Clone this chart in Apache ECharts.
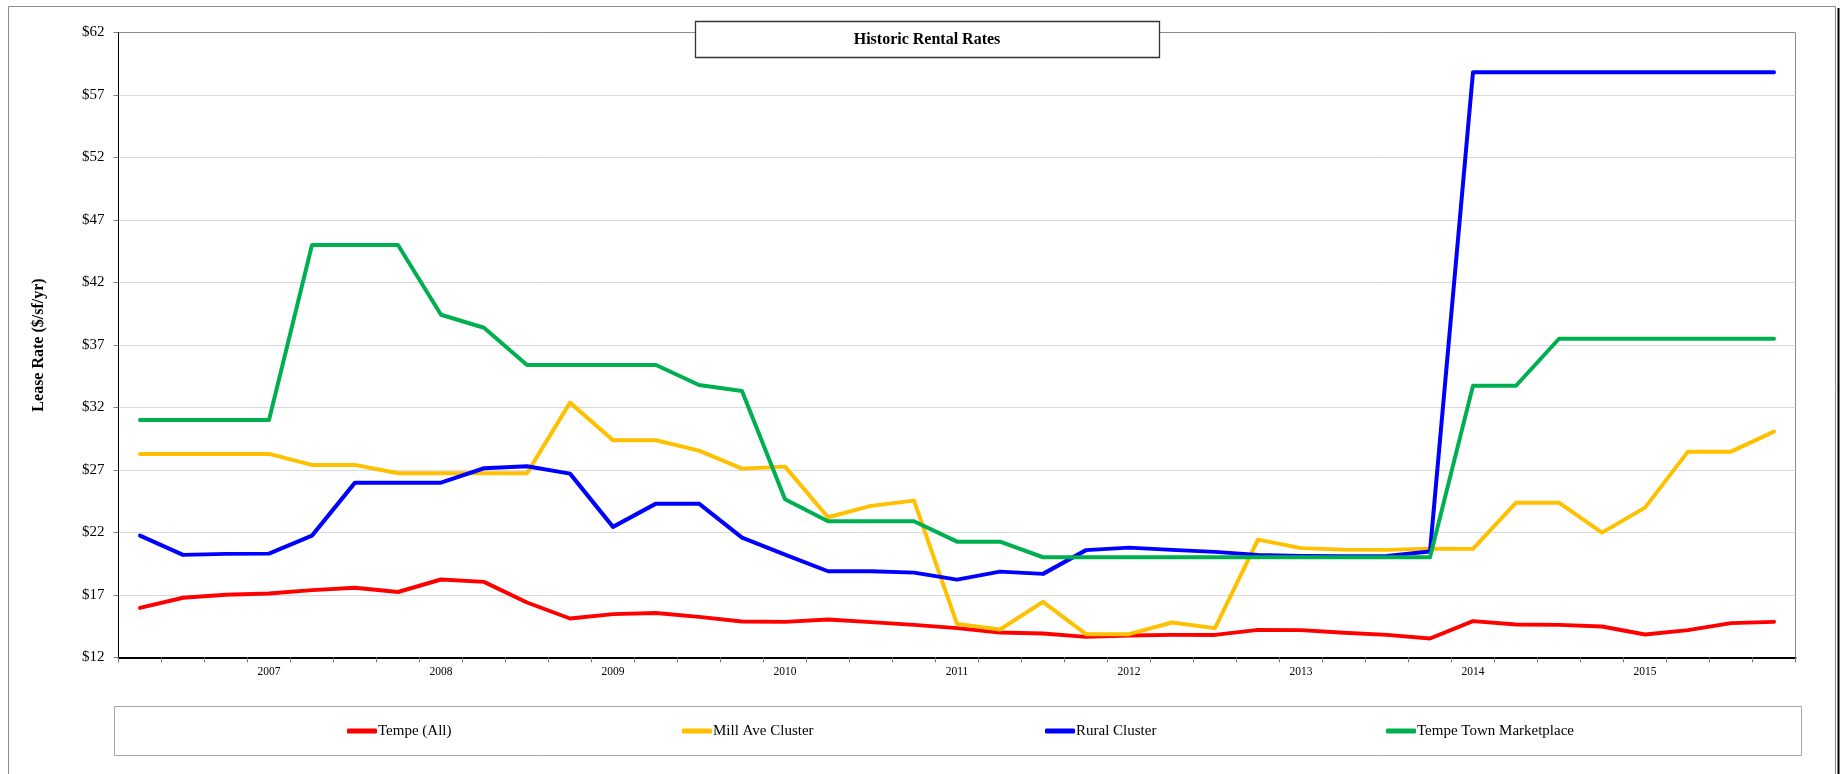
<!DOCTYPE html>
<html>
<head>
<meta charset="utf-8">
<title>Historic Rental Rates</title>
<script src="https://cdn.jsdelivr.net/npm/echarts@6/dist/echarts.min.js"></script>
<style>
  html, body { margin: 0; padding: 0; background: #ffffff; }
  #chart { width: 1843px; height: 774px; }
</style>
</head>
<body>
<div id="chart"></div>
<script>
// Quarterly periods, 2006 Q2 through 2015 Q4
const quarters = [
  '2006 Q2', '2006 Q3', '2006 Q4',
  '2007 Q1', '2007 Q2', '2007 Q3', '2007 Q4',
  '2008 Q1', '2008 Q2', '2008 Q3', '2008 Q4',
  '2009 Q1', '2009 Q2', '2009 Q3', '2009 Q4',
  '2010 Q1', '2010 Q2', '2010 Q3', '2010 Q4',
  '2011 Q1', '2011 Q2', '2011 Q3', '2011 Q4',
  '2012 Q1', '2012 Q2', '2012 Q3', '2012 Q4',
  '2013 Q1', '2013 Q2', '2013 Q3', '2013 Q4',
  '2014 Q1', '2014 Q2', '2014 Q3', '2014 Q4',
  '2015 Q1', '2015 Q2', '2015 Q3', '2015 Q4'
];

// Lease rates in $/sf/yr
const tempeAll = [
  15.97, 16.78, 17.02, 17.12, 17.39, 17.58, 17.24, 18.24, 18.05, 16.40,
  15.12, 15.47, 15.56, 15.25, 14.88, 14.85, 15.04, 14.83, 14.61, 14.35,
  14.00, 13.92, 13.65, 13.76, 13.81, 13.81, 14.21, 14.19, 13.98, 13.81,
  13.52, 14.91, 14.64, 14.61, 14.48, 13.84, 14.19, 14.75, 14.85
];
const millAve = [
  28.29, 28.29, 28.29, 28.29, 27.41, 27.41, 26.74, 26.74, 26.74, 26.74,
  32.39, 29.38, 29.38, 28.55, 27.11, 27.27, 23.22, 24.13, 24.55, 14.69,
  14.24, 16.45, 13.87, 13.87, 14.80, 14.35, 21.43, 20.75, 20.63, 20.61,
  20.71, 20.69, 24.39, 24.39, 21.99, 23.99, 28.47, 28.47, 30.07
];
const rural = [
  21.75, 20.21, 20.29, 20.31, 21.75, 25.99, 25.99, 25.99, 27.14, 27.30,
  26.71, 22.45, 24.31, 24.31, 21.59, 20.23, 18.90, 18.90, 18.79, 18.23,
  18.87, 18.69, 20.59, 20.79, 20.61, 20.45, 20.21, 20.13, 20.11, 20.13,
  20.48, 58.83, 58.83, 58.83, 58.83, 58.83, 58.83, 58.83, 58.83
];
const townMarketplace = [
  31.00, 31.00, 31.00, 31.00, 45.00, 45.00, 45.00, 39.42, 38.38, 35.40,
  35.40, 35.40, 35.40, 33.80, 33.32, 24.66, 22.90, 22.90, 22.90, 21.27,
  21.27, 20.02, 20.02, 20.02, 20.02, 20.02, 20.02, 20.02, 20.02, 20.02,
  20.02, 33.74, 33.74, 37.50, 37.50, 37.50, 37.50, 37.50, 37.50
];

const seriesNames = ['Tempe (All)', 'Mill Ave Cluster', 'Rural Cluster', 'Tempe Town Marketplace'];
const seriesData = [tempeAll, millAve, rural, townMarketplace];
const seriesColors = ['#FF0000', '#FFC000', '#0000FF', '#00B050'];

const chartTitle = 'Historic Rental Rates';
const yAxisTitle = 'Lease Rate ($/sf/yr)';

const serif = '"Liberation Serif", "Times New Roman", Times, serif';

// Legend entries sit spread across the framed box under the plot
const legendLeft = [347, 682, 1045, 1386];

const chart = echarts.init(document.getElementById('chart'), null, { renderer: 'canvas' });

const option = {
  animation: false,
  backgroundColor: '#ffffff',
  textStyle: { fontFamily: serif, color: '#000' },
  grid: {
    left: 118.5, top: 32.5, width: 1677, height: 625,
    show: true, borderColor: '#8c8c8c', borderWidth: 1, backgroundColor: 'transparent',
    containLabel: false
  },
  xAxis: {
    type: 'category',
    data: quarters,
    boundaryGap: true,
    axisLine: { show: true, lineStyle: { color: '#000', width: 2 } },
    axisTick: { show: true, interval: 0, length: 5, lineStyle: { color: '#7f7f7f' } },
    axisLabel: {
      interval: (idx, val) => val.endsWith('Q1'),
      formatter: (val) => val.slice(0, 4),
      margin: 8, fontSize: 11.5, color: '#000', fontFamily: serif
    },
    splitLine: { show: false }
  },
  yAxis: {
    type: 'value',
    min: 12, max: 62, interval: 5,
    name: yAxisTitle,
    nameLocation: 'middle',
    nameGap: 72,
    nameTextStyle: { fontSize: 16, fontWeight: 'bold', color: '#000', fontFamily: serif },
    axisLine: { show: true, lineStyle: { color: '#000', width: 1 } },
    axisTick: { show: true, length: 5, lineStyle: { color: '#7f7f7f' } },
    axisLabel: { formatter: (v) => '$' + v, margin: 14, fontSize: 15, color: '#000', fontFamily: serif },
    splitLine: { show: true, showMinLine: false, showMaxLine: false, lineStyle: { color: '#d9d9d9', width: 1 } }
  },
  legend: seriesNames.map((name, i) => ({
    data: [name],
    left: legendLeft[i],
    top: 722,
    padding: 0,
    icon: 'roundRect',
    itemWidth: 30,
    itemHeight: 5,
    selectedMode: false,
    textStyle: { fontSize: 15, color: '#000', fontFamily: serif, lineHeight: 18, padding: [0, 0, 0, -4] }
  })),
  series: seriesNames.map((name, i) => ({
    name: name,
    type: 'line',
    data: seriesData[i],
    color: seriesColors[i],
    showSymbol: false,
    symbol: 'none',
    lineStyle: { width: 4, color: seriesColors[i], cap: 'round', join: 'round' }
  })),
  graphic: [
    {
      type: 'rect', silent: true, z: 0,
      shape: { x: 8.5, y: 6.5, width: 1827, height: 820 },
      style: { fill: 'none', stroke: '#8c8c8c', lineWidth: 1 }
    },
    {
      type: 'line', silent: true, z: 0,
      shape: { x1: 1838.5, y1: 8, x2: 1838.5, y2: 774 },
      style: { stroke: '#000', lineWidth: 2 }
    },
    {
      type: 'rect', silent: true, z: 0,
      shape: { x: 114.5, y: 706.5, width: 1687, height: 49 },
      style: { fill: 'none', stroke: '#a6a6a6', lineWidth: 1 }
    },
    {
      type: 'rect', silent: true, z: 100,
      shape: { x: 695.5, y: 21.5, width: 464, height: 36 },
      style: { fill: '#ffffff', stroke: '#333333', lineWidth: 1.3 }
    },
    {
      type: 'text', silent: true, z: 101,
      x: 927, y: 40,
      style: {
        text: chartTitle,
        font: 'bold 16px ' + serif,
        fill: '#000',
        align: 'center',
        verticalAlign: 'middle'
      }
    }
  ]
};

chart.setOption(option);
</script>
</body>
</html>
